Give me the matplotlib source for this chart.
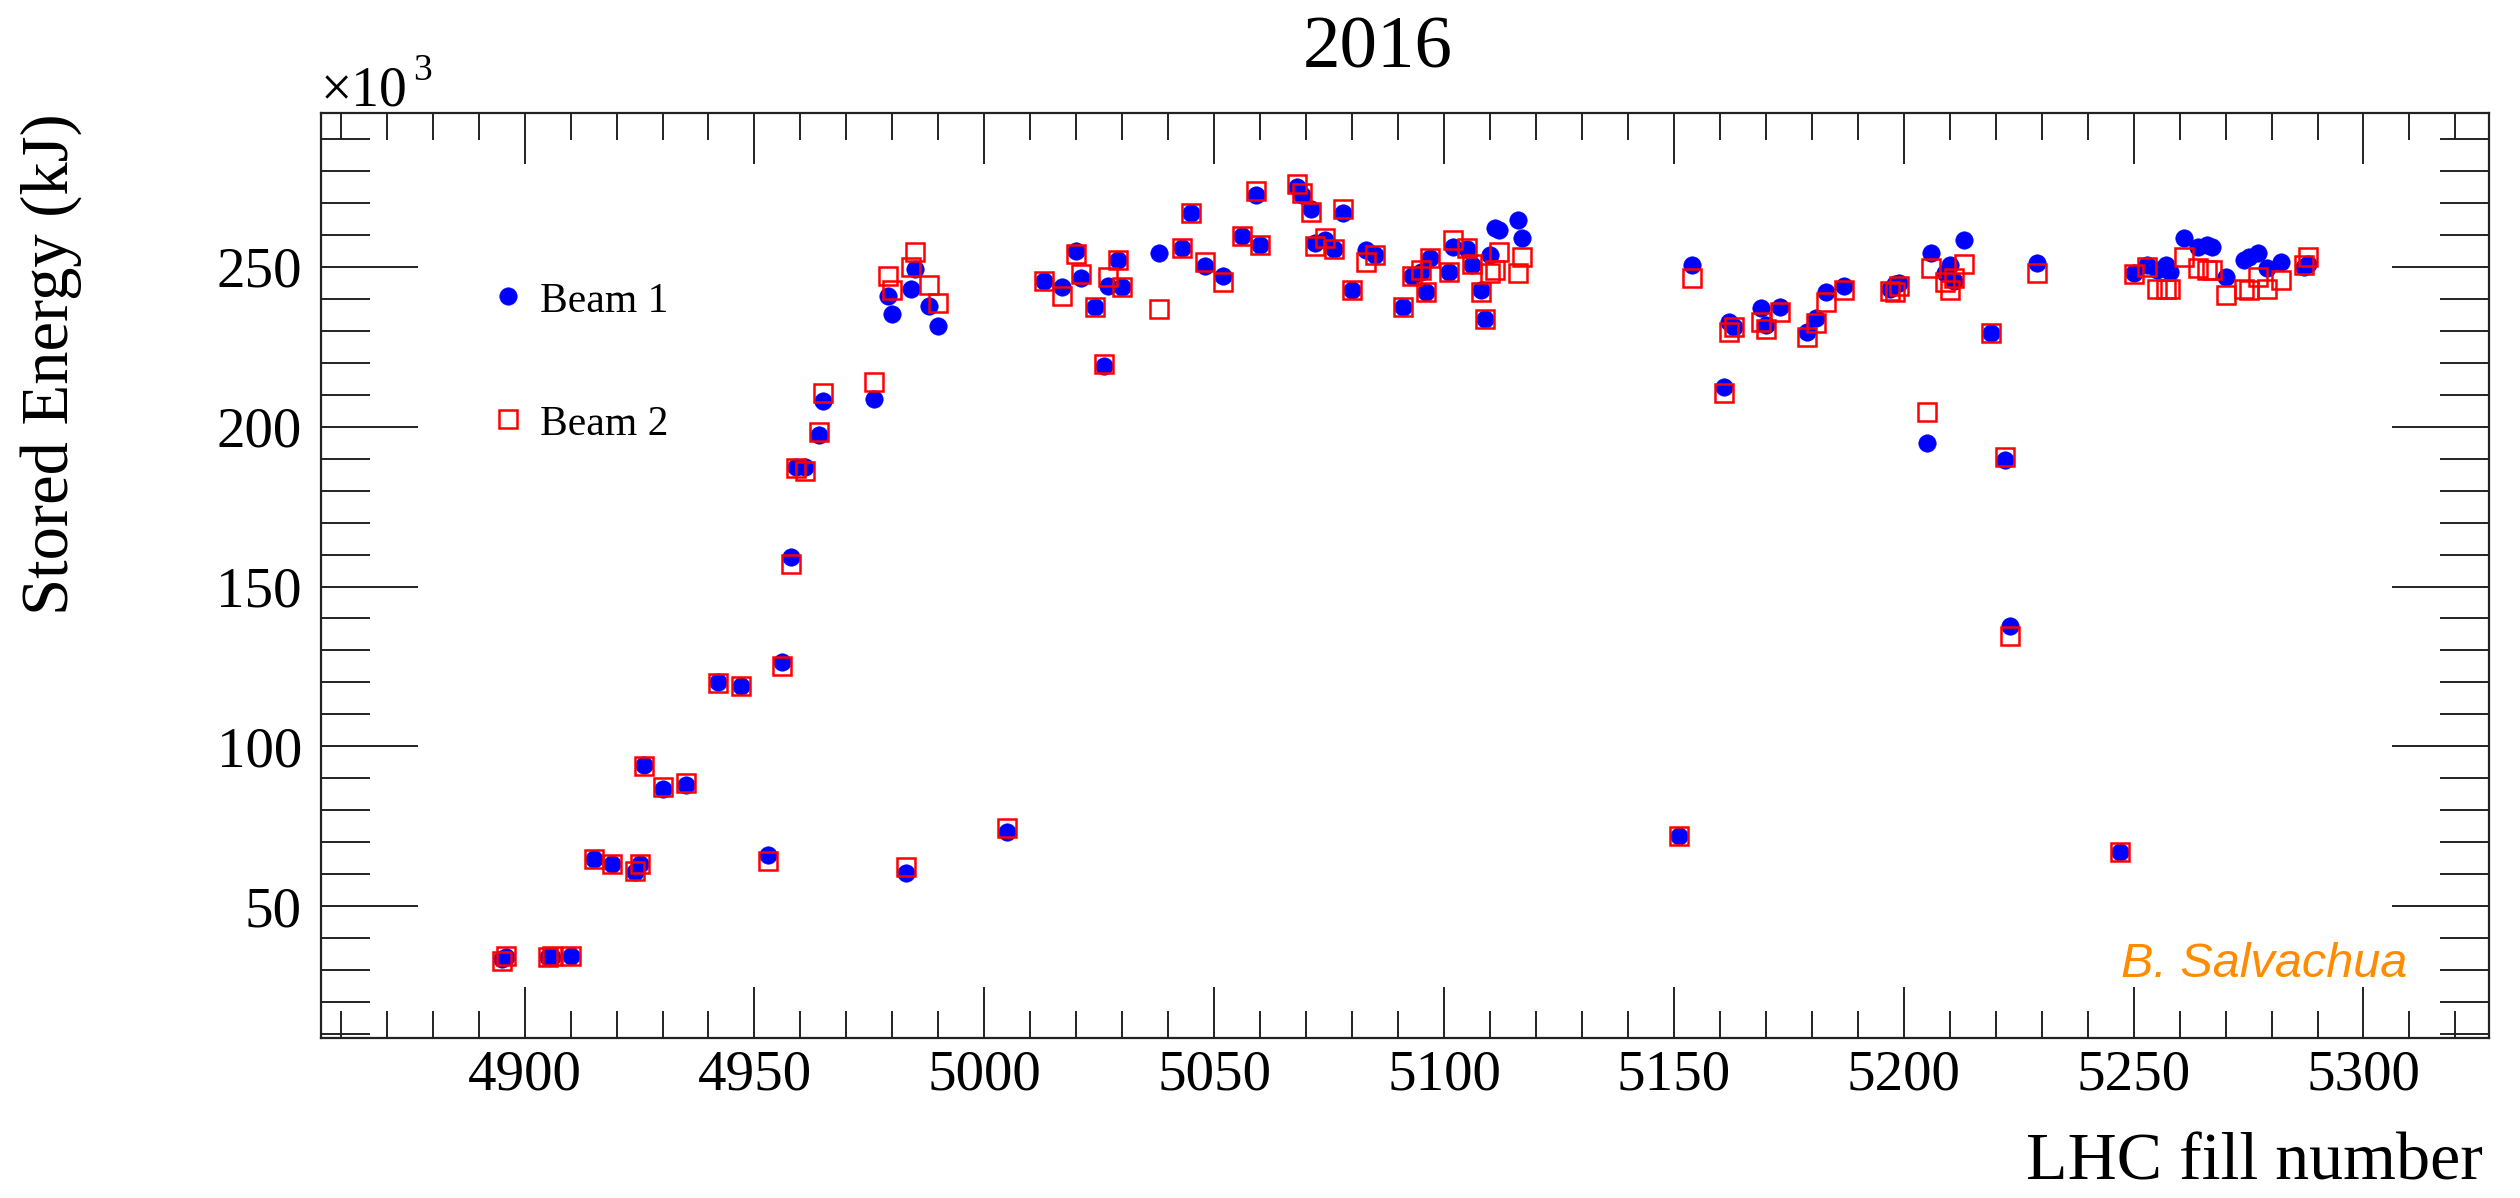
import matplotlib
matplotlib.use("Agg")
import matplotlib.pyplot as plt
from matplotlib.lines import Line2D
from matplotlib.ticker import MultipleLocator

# ---------------- data (stored energy in units of 10^3 kJ) ----------------
fills = [4895, 4896, 4905, 4906, 4910, 4915, 4919, 4924, 4925, 4926,
         4930, 4935, 4942, 4947, 4953, 4956, 4958, 4959, 4961, 4964,
         4965, 4976, 4979, 4980, 4983, 4984, 4985, 4988, 4990, 5005,
         5013, 5017, 5020, 5021, 5024, 5026, 5027, 5029, 5030, 5038,
         5043, 5045, 5048, 5052, 5056, 5059, 5060, 5068, 5069, 5071,
         5072, 5074, 5076, 5078, 5080, 5083, 5085, 5091, 5093, 5095,
         5096, 5097, 5101, 5102, 5105, 5106, 5108, 5109, 5110, 5111,
         5112, 5116, 5117, 5151, 5154, 5161, 5162, 5163, 5169, 5170,
         5173, 5179, 5181, 5183, 5187, 5197, 5198, 5199, 5205, 5206,
         5209, 5210, 5211, 5213, 5219, 5222, 5223, 5229, 5247, 5250,
         5253, 5255, 5257, 5258, 5261, 5264, 5266, 5267, 5270, 5274,
         5275, 5277, 5279, 5282, 5287, 5288]

beam1 = [33.5, 34.0, 34.0, 34.0, 34.3, 64.7, 63.3, 60.7, 63.3, 94.2,
         86.6, 87.9, 120.0, 119.0, 66.0, 126.3, 159.1, 187.4, 187.4, 197.5,
         208.0, 208.7, 240.8, 235.2, 60.5, 242.9, 249.2, 237.7, 231.5, 73.2,
         245.5, 243.6, 254.9, 246.4, 237.5, 219.0, 244.0, 252.1, 243.6, 254.4,
         256.0, 266.9, 250.3, 247.1, 259.6, 272.4, 256.8, 275.0, 272.4, 268.2,
         257.5, 258.3, 255.7, 266.7, 242.7, 255.2, 253.6, 237.3, 247.1, 248.4,
         242.2, 252.6, 248.4, 256.2, 255.7, 250.5, 242.7, 233.6, 253.6, 262.0,
         261.5, 264.6, 258.9, 71.9, 250.5, 212.5, 232.8, 231.3, 237.0, 231.8,
         237.5, 229.7, 233.9, 242.2, 244.0, 243.2, 244.6, 245.0, 194.8, 254.2,
         248.0, 250.5, 245.5, 258.3, 229.2, 189.6, 137.7, 251.3, 66.9, 247.9,
         250.5, 249.0, 250.5, 248.4, 258.9, 256.2, 256.8, 256.2, 246.9, 252.1,
         253.1, 254.2, 249.5, 251.6, 250.0, 251.0]

beam2 = [33.0, 34.5, 34.0, 34.3, 34.3, 64.7, 63.3, 61.0, 63.3, 94.0,
         87.2, 88.6, 119.8, 118.8, 64.3, 125.2, 157.0, 187.0, 186.0, 198.2,
         210.4, 214.0, 247.1, 242.7, 62.4, 249.8, 254.7, 244.3, 238.8, 74.5,
         245.5, 240.8, 254.0, 247.7, 237.5, 219.5, 246.7, 252.1, 243.6, 236.7,
         256.0, 266.9, 251.6, 245.3, 259.6, 273.8, 256.8, 276.0, 273.0, 267.2,
         256.5, 259.0, 255.7, 268.0, 242.7, 251.6, 253.6, 237.3, 247.1, 249.0,
         242.2, 252.9, 248.4, 258.5, 256.0, 251.0, 242.0, 233.6, 248.0, 249.0,
         254.7, 248.1, 253.1, 71.9, 246.4, 210.4, 229.7, 231.3, 232.8, 230.4,
         235.9, 228.1, 232.3, 239.1, 242.7, 242.5, 242.2, 244.0, 204.7, 249.5,
         245.3, 242.7, 246.4, 250.8, 229.2, 190.5, 134.6, 247.9, 66.9, 247.6,
         250.0, 243.2, 243.2, 243.2, 253.0, 249.5, 249.0, 249.0, 241.2, 243.2,
         242.7, 246.9, 243.2, 245.8, 250.5, 253.1]

series_labels = ["Beam 1", "Beam 2"]
x_ticks = [4900, 4950, 5000, 5050, 5100, 5150, 5200, 5250, 5300]
y_ticks = [50, 100, 150, 200, 250]

# ---------------- figure ----------------
W, H = 2520, 1198
fig = plt.figure(figsize=(W / 100, H / 100), dpi=100)
serif = ["Liberation Serif", "DejaVu Serif"]
plt.rcParams["font.family"] = serif

L, R, T, B = 321.4, 2489, 113.3, 1038
ax = fig.add_axes([L / W, 1 - B / H, (R - L) / W, (B - T) / H])

ax.plot(fills, beam1, linestyle="none", marker="o", markersize=12.5,
        markerfacecolor="#0000ff", markeredgecolor="#0000ff",
        markeredgewidth=0.5, zorder=3)
ax.plot(fills, beam2, linestyle="none", marker="s", markersize=12.5,
        markerfacecolor="none", markeredgecolor="#ff0000",
        markeredgewidth=1.8, zorder=4)

ax.set_xlim(4855.8, 5327.3)
ax.set_ylim(8.8, 298)

ax.xaxis.set_major_locator(MultipleLocator(50))
ax.xaxis.set_minor_locator(MultipleLocator(10))
ax.yaxis.set_major_locator(MultipleLocator(50))
ax.yaxis.set_minor_locator(MultipleLocator(10))
ax.set_xticks(x_ticks)
ax.set_yticks(y_ticks)
ax.set_xticklabels([str(v) for v in x_ticks])
ax.set_yticklabels([str(v) for v in y_ticks])

ax.tick_params(axis="both", which="both", direction="in", top=True,
               right=True, color="#222222", width=1.4)
ax.tick_params(axis="x", which="major", length=37, labelsize=41, pad=8)
ax.tick_params(axis="x", which="minor", length=19.5)
ax.tick_params(axis="y", which="major", length=70, labelsize=41, pad=14)
ax.tick_params(axis="y", which="minor", length=35)
for sp in ax.spines.values():
    sp.set_linewidth(1.6)
    sp.set_color("#222222")

# axis titles (ROOT style: aligned to the axis end)
fig.text(2483 / W, 1 - 1180 / H, "LHC fill number", ha="right",
         va="baseline", fontsize=49)
fig.text(68 / W, 1 - 113 / H, "Stored Energy (kJ)", rotation=90,
         rotation_mode="anchor", ha="right", va="baseline", fontsize=48)

# exponent
fig.text(321 / W, 1 - 105 / H, "×10", ha="left", va="baseline", fontsize=40)
fig.text(413 / W, 1 - 80 / H, "3", ha="left", va="baseline", fontsize=27)

# title
fig.text(1377.5 / W, 1 - 67 / H, "2016", ha="center", va="baseline",
         fontsize=54)

# legend
fig.add_artist(Line2D([507.7 / W], [1 - 296 / H], transform=fig.transFigure,
                      marker="o", markersize=12.5, linestyle="none",
                      markerfacecolor="#0000ff", markeredgecolor="#0000ff",
                      markeredgewidth=0.5))
fig.add_artist(Line2D([507.7 / W], [1 - 419.3 / H], transform=fig.transFigure,
                      marker="s", markersize=12.5, linestyle="none",
                      markerfacecolor="none", markeredgecolor="#ff0000",
                      markeredgewidth=1.8))
fig.text(540 / W, 1 - 311.7 / H, series_labels[0], ha="left", va="baseline",
         fontsize=30)
fig.text(540 / W, 1 - 435 / H, series_labels[1], ha="left", va="baseline",
         fontsize=30)

# author tag
fig.text(2407 / W, 1 - 977 / H, "B. Salvachua", ha="right", va="baseline",
         fontsize=35, color="#ff8c00", style="italic",
         family=["Liberation Sans", "DejaVu Sans"])

fig.savefig("out.png", dpi=100, facecolor="white")
